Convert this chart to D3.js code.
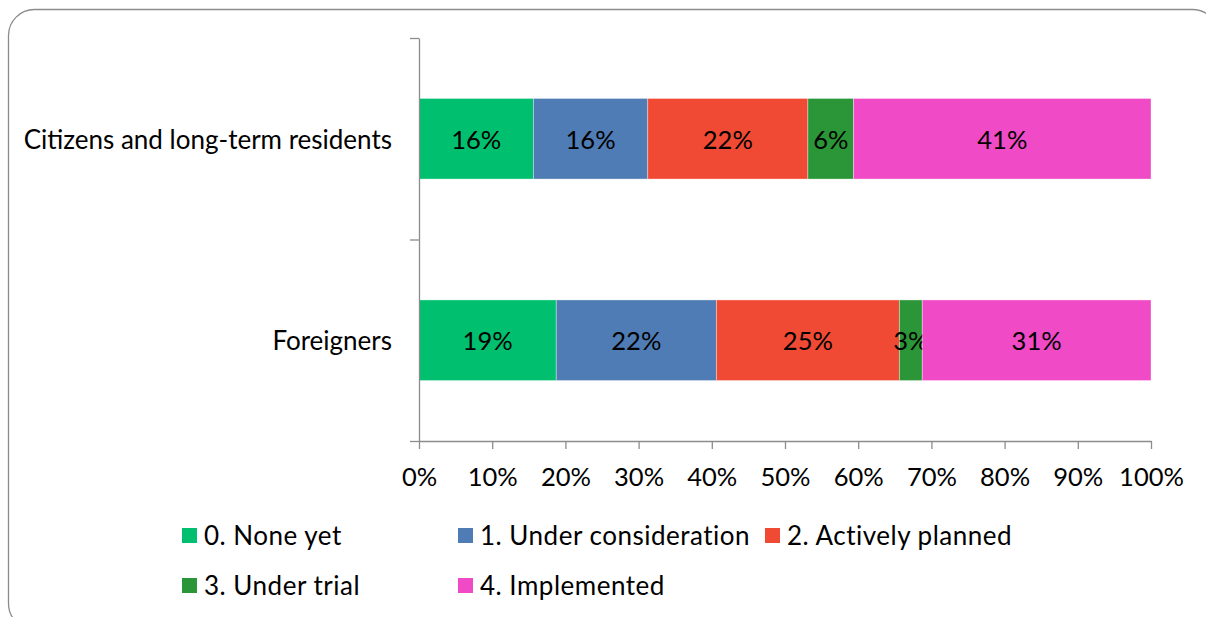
<!DOCTYPE html>
<html>
<head>
<meta charset="utf-8">
<script src="https://cdn.jsdelivr.net/npm/d3@7"></script>
<style>
  html, body { margin: 0; padding: 0; background: #fff; }
  svg { display: block; font-family: Lato, "Open Sans", sans-serif; }
</style>
</head>
<body>
<svg id="chart" width="1206" height="617"></svg>
<script>
// Respondent groups (top to bottom)
const groups = ["Citizens and long-term residents", "Foreigners"];
// Adoption stages, stacked left to right
const stages = ["0. None yet", "1. Under consideration", "2. Actively planned", "3. Under trial", "4. Implemented"];
const stageColors = ["#00bf6f", "#4f7cb4", "#f14a34", "#2a9637", "#f04ac6"];
// Share of each group in each stage
const citizensShares = [0.15625, 0.15625, 0.21875, 0.0625, 0.40625];
const foreignersShares = [0.1875, 0.21875, 0.25, 0.03125, 0.3125];
const xTicks = [0, 0.1, 0.2, 0.3, 0.4, 0.5, 0.6, 0.7, 0.8, 0.9, 1];

const rows = [citizensShares, foreignersShares];
const table = groups.map((g, i) => {
  const o = { group: g };
  stages.forEach((s, j) => { o[s] = rows[i][j]; });
  return o;
});

const svg = d3.select("#chart");
const fontSize = 25.5;

// Rounded chart frame
svg.append("rect")
  .attr("x", 8.5).attr("y", 9.5)
  .attr("width", 1210).attr("height", 620)
  .attr("rx", 26).attr("ry", 26)
  .attr("fill", "#fff")
  .attr("stroke", "#8c8c8c").attr("stroke-width", 1.3);

const plot = { left: 419, right: 1151, top: 38, bottom: 441 };

const x = d3.scaleLinear().domain([0, 1]).range([plot.left, plot.right]);
const y = d3.scaleBand().domain(groups).range([plot.top, plot.bottom]).paddingInner(0.6).paddingOuter(0.3);
const yEdges = d3.scaleLinear().domain([0, groups.length]).range([plot.top, plot.bottom]);

const series = d3.stack().keys(stages)(table);
const color = d3.scaleOrdinal().domain(stages).range(stageColors);

// Bars
const layer = svg.append("g").selectAll("g")
  .data(series).join("g")
  .attr("fill", d => color(d.key));

layer.selectAll("rect")
  .data(d => d.map(p => ({ key: d.key, p })))
  .join("rect")
  .attr("x", d => x(d.p[0]))
  .attr("y", d => y(d.p.data.group))
  .attr("width", d => x(d.p[1]) - x(d.p[0]))
  .attr("height", y.bandwidth())
  .attr("stroke", "rgba(255,255,255,0.45)")
  .attr("stroke-width", 0.8);

// Value labels
const fmt = d3.format(".0%");
layer.selectAll("text")
  .data(d => d.map(p => ({ key: d.key, p })))
  .join("text")
  .attr("x", d => (x(d.p[0]) + x(d.p[1])) / 2)
  .attr("y", d => y(d.p.data.group) + y.bandwidth() / 2)
  .attr("text-anchor", "middle")
  .attr("dominant-baseline", "central")
  .attr("fill", "#000")
  .attr("font-size", fontSize)
  .text(d => fmt(d.p[1] - d.p[0]));

// X axis
const axisColor = "#8c8c8c";
const xAxis = svg.append("g")
  .attr("transform", `translate(0,${plot.bottom})`)
  .call(d3.axisBottom(x).tickValues(xTicks).tickFormat(d3.format(".0%")).tickSizeInner(8).tickSizeOuter(0).tickPadding(19));
xAxis.select(".domain").attr("stroke", axisColor).attr("stroke-width", 1.3);
xAxis.selectAll(".tick line").attr("stroke", axisColor).attr("stroke-width", 1.3);
xAxis.selectAll(".tick text").attr("font-size", fontSize).attr("fill", "#000").attr("font-family", "Lato, sans-serif");

// Y axis line with ticks at category boundaries
const yAxis = svg.append("g")
  .attr("transform", `translate(${plot.left},0)`)
  .call(d3.axisLeft(yEdges).tickValues(d3.range(groups.length + 1)).tickFormat("").tickSizeInner(9).tickSizeOuter(0));
yAxis.select(".domain").attr("stroke", axisColor).attr("stroke-width", 1.3);
yAxis.selectAll(".tick line").attr("stroke", axisColor).attr("stroke-width", 1.3);

// Category labels
svg.append("g").selectAll("text")
  .data(groups).join("text")
  .attr("x", plot.left - 27)
  .attr("y", d => y(d) + y.bandwidth() / 2)
  .attr("text-anchor", "end")
  .attr("dominant-baseline", "central")
  .attr("font-size", 26)
  .attr("fill", "#000")
  .text(d => d);

// Legend
const legendPos = [[182, 535], [458, 535], [765, 535], [182, 585], [458, 585]];
const legend = svg.append("g").selectAll("g")
  .data(stages).join("g")
  .attr("transform", (d, i) => `translate(${legendPos[i][0]},${legendPos[i][1]})`);
legend.append("rect")
  .attr("x", 0).attr("y", -7).attr("width", 15).attr("height", 15)
  .attr("fill", d => color(d));
legend.append("text")
  .attr("x", 22).attr("y", 0)
  .attr("dominant-baseline", "central")
  .attr("font-size", 26)
  .attr("letter-spacing", 0.5)
  .attr("fill", "#000")
  .text(d => d);
</script>
</body>
</html>
